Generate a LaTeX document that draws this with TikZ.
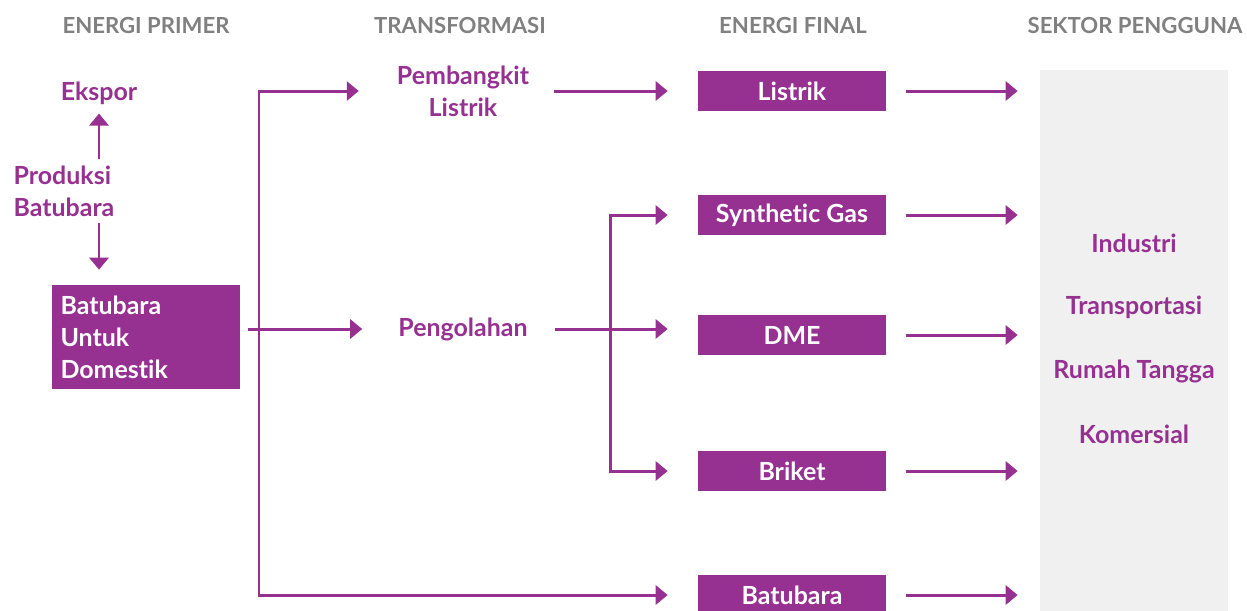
\documentclass[tikz,border=0pt]{standalone}
\usepackage{fontspec}
\setmainfont{Lato}[Ligatures={NoCommon,NoRare}]
\usetikzlibrary{arrows.meta, positioning}
\definecolor{CoalPurple}{RGB}{150, 48, 145}
\definecolor{HeadGray}{RGB}{128, 128, 128}
\definecolor{SectorBg}{RGB}{240, 240, 240}
\tikzset{
  hdr/.style={font=\fontsize{12.6}{14}\selectfont\bfseries, text=HeadGray},
  lbl/.style={font=\fontsize{14.2}{18.2}\selectfont\bfseries, text=CoalPurple, align=center},
  fbox/.style={rectangle, fill=CoalPurple, text=white, inner sep=0pt,
               minimum width=3.76cm, minimum height=0.8cm,
               font=\fontsize{14.2}{18.2}\selectfont\bfseries, align=center},
  arr/.style={-{Triangle[length=0.24cm, width=0.38cm]}, line width=1.7pt, draw=CoalPurple},
}
\begin{document}
\begin{tikzpicture}[x=0.02cm, y=-0.02cm]
  \useasboundingbox (0,0) rectangle (1247,610);

  % headers
  \node[hdr] (hprim)  at (146,25)  {ENERGI PRIMER};
  \node[hdr] (htrans) at (460,25)  {TRANSFORMASI};
  \node[hdr] (hfinal) at (793,25)  {ENERGI FINAL};
  \node[hdr] (hsekt)  at (1135,25) {SEKTOR PENGGUNA};

  % primary energy
  \node[lbl] (ekspor) at (99,93) {Ekspor};
  \node[lbl, align=left] (prod) at (64,191) {Produksi\\Batubara};
  \node[fbox, minimum height=2.08cm, align=left, text width=3.42cm, inner xsep=0.17cm]
       (dom) at (146,337) {Batubara\\Untuk\\Domestik};

  % transformation
  \node[lbl] (pemb) at (463,91)  {Pembangkit\\Listrik};
  \node[lbl] (oleh) at (463,329) {Pengolahan};
  \coordinate (trunk) at (259,332);
  \coordinate (fork)  at (610,329);

  % final energy
  \node[fbox] (listrik) at (792,91)  {Listrik};
  \node[fbox] (syngas)  at (792,215) {Synthetic Gas};
  \node[fbox] (dme)     at (792,335) {DME};
  \node[fbox] (briket)  at (792,471) {Briket};
  \node[fbox] (coal)    at (792,595) {Batubara};

  % user sectors
  \node[fill=SectorBg, minimum width=3.76cm, minimum height=11cm, inner sep=0pt]
       (sektor) at (1134,345) {};
  \node[lbl] (ind)   at (1134,243) {Industri};
  \node[lbl] (trans) at (1134,307) {Transportasi};
  \node[lbl] (rumah) at (1134,371) {Rumah Tangga};
  \node[lbl] (kom)   at (1134,434) {Komersial};

  % connectors
  \draw[arr, shorten >=0.06cm] (ekspor |- prod.north) -- (ekspor.south);
  \draw[arr, shorten >=0.3cm] (ekspor |- prod.south) -- (ekspor |- dom.north);
  \draw[arr, shorten <=0.16cm, shorten >=0.6cm] (dom.east |- oleh) -- (oleh.west);
  \draw[arr, shorten >=0.64cm] (trunk) |- (pemb.west);
  \draw[arr, shorten >=0.6cm] (trunk) |- (coal.west);
  \draw[arr, shorten <=0.38cm, shorten >=0.6cm] (pemb.east) -- (pemb.east -| listrik.west);
  \draw[arr, shorten <=0.42cm, shorten >=0.6cm] (oleh.east) -- (oleh.east -| dme.west);
  \draw[arr, shorten >=0.6cm] (fork) |- (syngas.west);
  \draw[arr, shorten >=0.6cm] (fork) |- (briket.west);
  \foreach \n in {listrik, syngas, dme, briket, coal}
    \draw[arr, shorten <=0.4cm, shorten >=0.44cm] (\n.east) -- (\n.east -| sektor.west);
\end{tikzpicture}
\end{document}
